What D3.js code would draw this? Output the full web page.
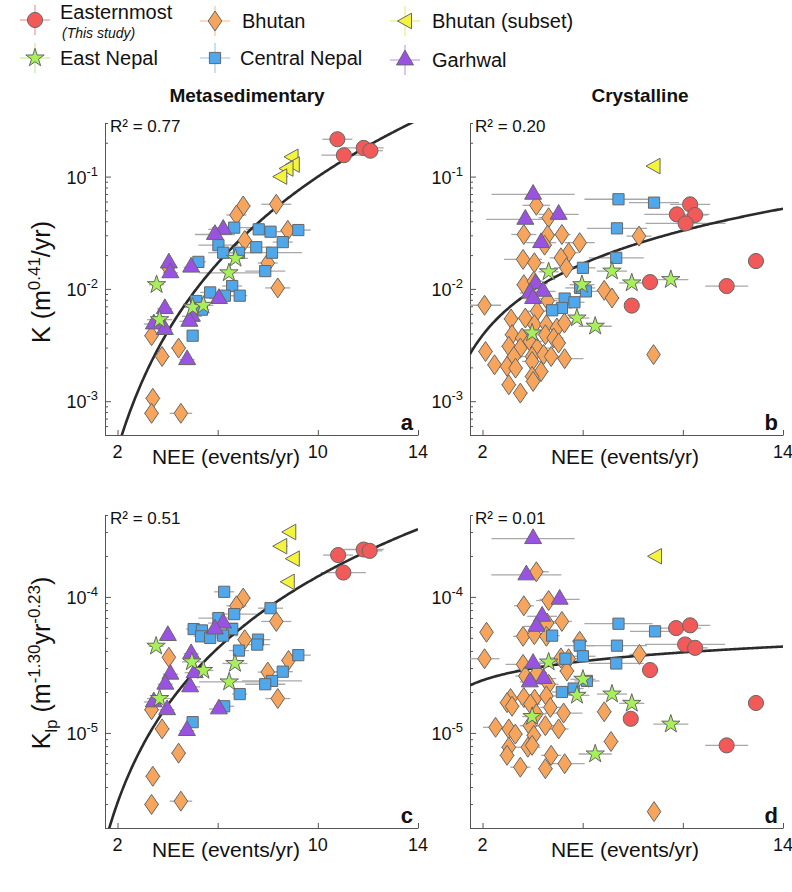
<!DOCTYPE html>
<html><head><meta charset="utf-8">
<script src="https://cdn.jsdelivr.net/npm/d3@7"></script>
<style>
body{margin:0;background:#fff}
svg{display:block}
text{font-family:"Liberation Sans",Arial,Helvetica,sans-serif;fill:#111}
</style>
</head><body>
<svg id="chart" width="792" height="892"></svg>
<script>
// ---------- labels / ticks ----------
const seriesNames = ["Easternmost","Bhutan","Bhutan (subset)","East Nepal","Central Nepal","Garhwal"];
const seriesKeys  = ["east","bhutan","subset","eastNepal","central","garhwal"];
const columnTitles = ["Metasedimentary","Crystalline"];
const panelLetters = ["a","b","c","d"];
const rSquared = ["0.77","0.20","0.51","0.01"];
const xTickValues = [2,6,10,14];
const xDomain = [1.5,14];
const kDomain = [5e-4,0.3];
const klpDomain = [2e-6,4e-4];
// power-law fit K = 10^logA * NEE^slope
const fitLogA  = [-4.471,-2.815,-6.230,-4.702];
const fitSlope = [3.47,1.334,2.38,0.294];

// ---------- data: [NEE, value, NEE error] ----------
// panel a: Metasedimentary K
const metaK_east = [[10.78,0.215,0.6],[11.04,0.155,0.9],[11.83,0.18,0.8],[12.10,0.17,0.5]];
const metaK_subset = [[8.95,0.15,0.2],[9.0,0.128,0.2],[8.75,0.118,0.2],[8.5,0.10,0.3]];
const metaK_bhutan = [[7.02,0.0547,0.3],[6.75,0.0455,0.4],[8.34,0.0567,0.6],[8.80,0.0332,0.3],[7.08,0.027,0.3],[8.0,0.017,0.4],[8.4,0.0102,0.5],[4.02,0.0156,0.2],[3.36,0.00383,0.3],[3.78,0.0025,0.3],[4.44,0.00297,0.3],[3.41,0.00106,0.3],[3.36,0.00078,0.3],[4.53,0.00078,0.45]];
const metaK_central = [[6.66,0.0351,0.9],[7.64,0.0339,0.5],[8.11,0.0323,0.5],[9.22,0.0334,0.5],[6.03,0.0245,0.8],[6.22,0.021,0.6],[6.85,0.021,0.5],[7.54,0.0235,0.6],[8.17,0.021,1.2],[8.6,0.0261,0.4],[5.23,0.0174,0.3],[7.9,0.0144,0.8],[6.58,0.0106,0.4],[5.70,0.0093,0.4],[6.29,0.0087,0.4],[6.88,0.0087,0.3],[5.14,0.0078,0.4],[5.37,0.00653,0.3],[5.0,0.00383,0.2]];
const metaK_garhwal = [[6.22,0.0339,0.6],[5.89,0.0305,0.8],[4.05,0.017,0.2],[4.11,0.0139,0.3],[4.94,0.0156,0.3],[6.05,0.0082,0.4],[3.89,0.00667,0.3],[4.97,0.0057,0.4],[4.87,0.00514,0.4],[3.45,0.00487,0.4],[3.89,0.00434,0.3],[4.78,0.00234,0.3]];
const metaK_eastNepal = [[6.71,0.0187,0.5],[6.45,0.0139,1.2],[3.56,0.0109,0.3],[5.0,0.00686,0.4],[5.43,0.00714,0.4],[3.68,0.00532,0.5]];

// panel b: Crystalline K
const crystK_east = [[10.29,0.0566,0.8],[9.76,0.0461,1.3],[10.49,0.0455,0.5],[10.11,0.0383,1.6],[12.92,0.0177,0],[8.69,0.0115,0.3],[11.75,0.0106,0.86],[7.96,0.0071,0.2]];
const crystK_subset = [[8.83,0.124,0]];
const crystK_bhutan = [[4.15,0.0555,0.55],[4.64,0.043,0.4],[3.65,0.0305,0.5],[4.60,0.0301,0.3],[5.17,0.0305,0.35],[5.88,0.0258,0.6],[8.25,0.0295,0.5],[4.48,0.0245,0.3],[5.44,0.021,0.4],[5.13,0.0189,0.45],[3.62,0.0183,0.76],[4.07,0.0171,0.4],[5.35,0.0154,0.5],[3.65,0.0109,0.3],[4.05,0.0117,0.35],[6.86,0.0097,0.3],[7.17,0.0083,0.3],[2.08,0.00715,0.66],[4.60,0.00787,0.4],[4.18,0.00632,0.4],[3.14,0.0054,0.3],[3.71,0.0055,0.4],[4.07,0.0048,0.4],[4.55,0.0048,0.4],[4.97,0.00449,0.4],[5.27,0.00497,0.3],[3.18,0.00391,0.3],[3.58,0.00365,0.4],[3.89,0.00341,0.5],[4.51,0.00391,0.4],[4.84,0.00365,0.4],[5.04,0.0033,0.3],[3.05,0.00308,0.3],[3.51,0.00297,0.4],[4.18,0.00297,0.5],[2.12,0.00277,0.3],[3.25,0.0025,0.3],[3.98,0.0025,0.4],[4.44,0.0026,0.4],[4.74,0.0025,0.4],[5.28,0.00239,0.75],[8.83,0.0026,0],[2.48,0.00211,0.3],[2.98,0.00204,0.3],[3.32,0.00197,0.3],[3.98,0.00226,0.4],[4.34,0.00184,0.3],[3.98,0.00166,0.3],[4.02,0.0015,0.3],[3.05,0.0014,0.3],[3.51,0.00118,0.3]];
const crystK_central = [[7.43,0.0628,1.36],[8.85,0.0586,1.0],[7.37,0.0346,1.2],[7.34,0.0189,1.1],[6.01,0.0154,0.5],[5.90,0.0102,0.6],[6.13,0.0095,0.5],[5.28,0.0082,0.4],[5.67,0.0076,0.4],[5.17,0.00676,0.4],[4.78,0.00645,0.3]];
const crystK_garhwal = [[4.02,0.0695,1.66],[3.71,0.0416,1.56],[5.04,0.0461,0.8],[4.34,0.0258,0.6],[4.11,0.0111,0.5],[4.42,0.0095,0.5],[3.89,0.0092,0.4],[4.02,0.0082,0.4]];
const crystK_eastNepal = [[4.64,0.0142,0.4],[7.17,0.0144,0.6],[5.97,0.0109,0.5],[7.96,0.0113,0.5],[9.52,0.0121,0.7],[5.77,0.0055,0.5],[6.50,0.00465,0.66],[3.98,0.00405,0.4]];

// panel c: Metasedimentary Klp
const metaKlp_east = [[10.81,2.03e-4,0.6],[11.02,1.51e-4,0.9],[11.83,2.23e-4,0.8],[12.07,2.18e-4,0.5]];
const metaKlp_subset = [[8.86,3.0e-4,0.2],[8.5,2.36e-4,0.3],[9.0,1.91e-4,0.2],[8.8,1.29e-4,0.2]];
const metaKlp_bhutan = [[7.02,9.8e-5,0.3],[6.75,8.6e-5,0.4],[8.34,6.6e-5,0.6],[7.08,4.85e-5,0.3],[8.83,3.41e-5,0.3],[8.0,2.8e-5,0.4],[8.4,1.79e-5,0.5],[4.05,3.6e-5,0.2],[3.36,1.48e-5,0.3],[3.78,1.07e-5,0.3],[4.44,7.1e-6,0.3],[3.41,4.8e-6,0.3],[3.36,2.98e-6,0.3],[4.53,3.15e-6,0.45]];
const metaKlp_central = [[6.26,1.09e-4,0.4],[6.66,7.47e-5,0.9],[8.11,8.26e-5,0.5],[6.03,6.99e-5,0.8],[5.04,5.8e-5,0.3],[5.37,5.67e-5,0.3],[5.34,5.13e-5,0.3],[5.70,4.99e-5,0.4],[6.58,5.8e-5,0.4],[6.22,5.19e-5,0.6],[7.61,4.85e-5,0.5],[7.58,4.46e-5,0.5],[6.85,4.03e-5,0.4],[9.22,3.73e-5,0.5],[8.6,2.82e-5,0.4],[8.17,2.41e-5,1.2],[7.9,2.28e-5,0.8],[6.88,1.93e-5,0.3],[6.26,1.57e-5,0.4],[5.0,1.2e-5,0.2]];
const metaKlp_garhwal = [[4.01,5.19e-5,0.2],[6.22,6.42e-5,0.6],[5.89,5.8e-5,0.8],[4.94,3.82e-5,0.3],[5.08,2.77e-5,0.4],[4.11,2.7e-5,0.3],[3.91,2.28e-5,0.3],[4.9,2.18e-5,0.4],[3.45,1.69e-5,0.4],[3.98,1.48e-5,0.3],[6.05,1.5e-5,0.4],[4.77,1.04e-5,0.3]];
const metaKlp_eastNepal = [[3.54,4.34e-5,0.3],[4.97,3.33e-5,0.4],[5.43,2.88e-5,0.4],[6.69,3.24e-5,0.5],[6.46,2.37e-5,1.2],[3.68,1.79e-5,0.5]];

// panel d: Crystalline Klp
const crystKlp_east = [[9.73,5.9e-5,1.0],[10.29,6.18e-5,0.8],[10.09,4.47e-5,1.6],[10.49,4.22e-5,0.5],[8.69,2.9e-5,0.3],[12.92,1.66e-5,0],[7.92,1.27e-5,0.2],[11.75,8.1e-6,0.86]];
const crystKlp_subset = [[8.89,1.99e-4,0]];
const crystKlp_bhutan = [[4.15,1.53e-4,0.5],[4.64,9.4e-5,0.5],[3.65,8.6e-5,0.4],[5.17,6.6e-5,0.4],[4.58,6.42e-5,0.5],[2.16,5.5e-5,0],[3.62,5.13e-5,0.4],[4.07,5.28e-5,0.4],[4.55,5.13e-5,0.3],[5.88,4.72e-5,0.3],[2.08,3.51e-5,0.6],[8.27,3.78e-5,0.4],[5.13,3.56e-5,0.4],[5.44,3.51e-5,0.4],[3.62,3.19e-5,0.7],[5.37,2.85e-5,0.3],[4.18,2.77e-5,0.4],[3.71,2.62e-5,0.4],[4.64,2.28e-5,0.4],[3.12,1.79e-5,0.3],[3.65,1.82e-5,0.4],[4.08,1.77e-5,0.4],[4.55,1.87e-5,0.4],[2.98,1.67e-5,0.3],[3.18,1.57e-5,0.3],[3.91,1.63e-5,0.4],[4.71,1.54e-5,0.4],[5.24,1.4e-5,0.75],[6.86,1.43e-5,0.3],[4.15,1.38e-5,0.4],[2.52,1.1e-5,0.5],[3.05,1.07e-5,0.3],[3.31,9.8e-6,0.3],[3.89,1.13e-5,0.4],[4.51,1.13e-5,0.5],[5.04,1.07e-5,0.4],[4.05,9.6e-6,0.3],[7.13,8.65e-6,0.3],[3.05,7.85e-6,0.3],[3.81,7.85e-6,0.5],[2.98,6.84e-6,0.3],[3.98,8.1e-6,0.3],[4.74,6.84e-6,0.4],[3.51,5.6e-6,0.4],[4.51,5.46e-6,0.3],[5.28,5.94e-6,0.8],[8.85,2.64e-6,0]];
const crystKlp_central = [[7.43,6.35e-5,1.36],[8.89,5.58e-5,1.0],[4.78,5.19e-5,0.3],[5.88,4.38e-5,0.6],[7.37,4.38e-5,1.2],[6.01,3.66e-5,0.5],[5.31,3.51e-5,0.4],[7.34,3.24e-5,1.1],[6.17,2.41e-5,0.5],[5.64,2.12e-5,0.4],[5.17,2.0e-5,0.4]];
const crystKlp_garhwal = [[4.02,2.68e-4,1.66],[3.75,1.45e-4,1.4],[5.08,9.6e-5,0.8],[4.38,7.2e-5,0.6],[4.15,6.07e-5,0.5],[4.02,3.24e-5,0.5],[4.44,2.51e-5,0.5],[3.89,2.37e-5,0.4]];
const crystKlp_eastNepal = [[4.64,3.32e-5,0.4],[6.01,2.48e-5,0.5],[5.77,1.89e-5,0.5],[7.17,1.93e-5,0.6],[7.96,1.65e-5,0.5],[9.52,1.16e-5,0.7],[3.98,1.32e-5,0.4],[6.50,7.0e-6,0.66]];

// ---------- styling ----------
const fillColor = {east:"#f25a5a",bhutan:"#f7a55c",subset:"#f4f43c",eastNepal:"#a8f05a",central:"#50a8ec",garhwal:"#9a52e2"};
const lightColor = {east:"#f4a0a0",bhutan:"#f8c898",subset:"#eeee80",eastNepal:"#c8efa0",central:"#a8d0f2",garhwal:"#c9a8f0"};

function markerPath(key){
  switch(key){
    case "east": return d3.symbol(d3.symbolCircle,180)();
    case "bhutan": return "M0,-10L6.8,0L0,10L-6.8,0Z";
    case "subset": return "M-7.5,0L6.5,-7.8L6.5,7.8Z";
    case "eastNepal": return d3.symbol(d3.symbolStar,105)();
    case "central": return "M-5.6,-5.6h11.2v11.2h-11.2z";
    case "garhwal": return d3.symbol(d3.symbolTriangle,125)();
  }
}

const panelData = [
  {east:metaK_east,bhutan:metaK_bhutan,subset:metaK_subset,eastNepal:metaK_eastNepal,central:metaK_central,garhwal:metaK_garhwal},
  {east:crystK_east,bhutan:crystK_bhutan,subset:crystK_subset,eastNepal:crystK_eastNepal,central:crystK_central,garhwal:crystK_garhwal},
  {east:metaKlp_east,bhutan:metaKlp_bhutan,subset:metaKlp_subset,eastNepal:metaKlp_eastNepal,central:metaKlp_central,garhwal:metaKlp_garhwal},
  {east:crystKlp_east,bhutan:crystKlp_bhutan,subset:crystKlp_subset,eastNepal:crystKlp_eastNepal,central:crystKlp_central,garhwal:crystKlp_garhwal}
];

const layout = [
  {x0:105,x1:418,y0:123,y1:435,yd:kDomain,titleX:226},
  {x0:470,x1:783,y0:123,y1:435,yd:kDomain,titleX:625},
  {x0:105,x1:418,y0:515,y1:828,yd:klpDomain,titleX:226},
  {x0:470,x1:783,y0:515,y1:828,yd:klpDomain,titleX:625}
];

const svg = d3.select("#chart");
const drawOrder = ["bhutan","central","garhwal","eastNepal","east","subset"];

layout.forEach((L,i)=>{
  const g = svg.append("g");
  const x = d3.scaleLinear().domain(xDomain).range([L.x0,L.x1]);
  const y = d3.scaleLog().domain(L.yd).range([L.y1,L.y0]);

  const cid = "clip"+i;
  svg.append("clipPath").attr("id",cid).append("rect")
    .attr("x",L.x0).attr("y",L.y0).attr("width",L.x1-L.x0).attr("height",L.y1-L.y0);

  // y ticks (log majors + minors)
  const lo = Math.floor(Math.log10(L.yd[0])), hi = Math.ceil(Math.log10(L.yd[1]));
  const majors=[], minors=[];
  for(let e=lo;e<=hi;e++){
    for(let m=1;m<10;m++){
      const v = m*Math.pow(10,e);
      if(v<L.yd[0]*0.999||v>L.yd[1]*1.001) continue;
      (m===1?majors:minors).push(v);
    }
  }
  const axStyle = s=>{ s.selectAll("path,line").attr("stroke","#555").attr("stroke-width",1); s.selectAll("text").remove(); };
  g.append("g").attr("transform",`translate(${L.x0},0)`)
    .call(d3.axisLeft(y).tickValues(minors).tickSize(-3).tickSizeOuter(0).tickFormat(""))
    .call(axStyle);
  g.append("g").attr("transform",`translate(${L.x0},0)`)
    .call(d3.axisLeft(y).tickValues(majors).tickSize(-6).tickSizeOuter(0).tickFormat(""))
    .call(axStyle);
  g.append("g").attr("transform",`translate(0,${L.y1})`)
    .call(d3.axisBottom(x).tickValues(xTickValues).tickSize(-5).tickSizeOuter(0).tickFormat(""))
    .call(axStyle);

  // y tick labels 10^n, right aligned
  majors.forEach(v=>{
    const t = g.append("text").attr("x",L.x0-7).attr("y",y(v)+7).attr("text-anchor","end")
      .attr("font-size",18).attr("fill","#222");
    t.append("tspan").text("10");
    t.append("tspan").attr("dy",-8).attr("font-size",13).text(String(Math.round(Math.log10(v))));
  });

  // x axis title
  const tt = g.append("text").attr("x",L.titleX).attr("y",L.y1+29).attr("text-anchor","middle")
    .attr("font-size",21).attr("fill","#222").text("NEE (events/yr)");
  const bb = tt.node().getBBox();
  // x tick labels (those not covered by the title)
  xTickValues.forEach(v=>{
    const lab = g.append("text").attr("x",x(v)).attr("y",L.y1+23).attr("text-anchor","middle")
      .attr("font-size",18).attr("fill","#222").text(v);
    const lb = lab.node().getBBox();
    if(lb.x+lb.width > bb.x-2 && lb.x < bb.x+bb.width+2) lab.remove();
  });

  // error bars, fit curve, markers
  const nee = d3.range(xDomain[0],xDomain[1]+0.001,0.05);
  const line = d3.line().x(d=>x(d)).y(d=>y(Math.pow(10,fitLogA[i])*Math.pow(d,fitSlope[i])));
  const plot = g.append("g").attr("clip-path",`url(#${cid})`);
  const data = panelData[i];
  drawOrder.forEach(k=>{
    plot.selectAll(null).data(data[k].filter(d=>d[2]>0)).join("line")
      .attr("x1",d=>x(d[0]-d[2])).attr("x2",d=>x(d[0]+d[2]))
      .attr("y1",d=>y(d[1])).attr("y2",d=>y(d[1]))
      .attr("stroke","#a8a8a8").attr("stroke-width",1.3);
  });
  plot.append("path").datum(nee).attr("d",line).attr("fill","none")
    .attr("stroke","#2b2b2b").attr("stroke-width",2.6);
  drawOrder.forEach(k=>{
    g.selectAll(null).data(data[k]).join("path")
      .attr("d",markerPath(k))
      .attr("transform",d=>`translate(${x(d[0])},${y(d[1])})`)
      .attr("fill",fillColor[k]).attr("stroke","#666").attr("stroke-width",1);
  });

  // R² and panel letter
  g.append("text").attr("x",L.x0+5).attr("y",L.y0+9).attr("font-size",17)
    .attr("fill", i===3?"#777":"#111").text("R² = "+rSquared[i]);
  g.append("text").attr("x",L.x1-5).attr("y",L.y1-5).attr("text-anchor","end")
    .attr("font-size",22).attr("font-weight","bold").text(panelLetters[i]);
});

// column titles
svg.append("text").attr("x",247).attr("y",102).attr("text-anchor","middle")
  .attr("font-size",19).attr("font-weight","bold").text(columnTitles[0]);
svg.append("text").attr("x",640).attr("y",102).attr("text-anchor","middle")
  .attr("font-size",19).attr("font-weight","bold").text(columnTitles[1]);

// y axis titles
const yt1 = svg.append("text").attr("transform","translate(50,282) rotate(-90)")
  .attr("text-anchor","middle").attr("font-size",25).attr("fill","#222");
yt1.append("tspan").text("K (m");
yt1.append("tspan").attr("dy",-10).attr("font-size",17).text("0.41");
yt1.append("tspan").attr("dy",10).text("/yr)");

const yt2 = svg.append("text").attr("transform","translate(50,663) rotate(-90)")
  .attr("text-anchor","middle").attr("font-size",25).attr("fill","#222");
yt2.append("tspan").text("K");
yt2.append("tspan").attr("dy",7).attr("font-size",17).text("lp");
yt2.append("tspan").attr("dy",-7).text(" (m");
yt2.append("tspan").attr("dy",-10).attr("font-size",17).text("-1.30");
yt2.append("tspan").attr("dy",10).text("yr");
yt2.append("tspan").attr("dy",-10).attr("font-size",17).text("-0.23");
yt2.append("tspan").attr("dy",10).text(")");

// legend
const legendPos = [
  {k:"east",mx:35,my:20,tx:60},
  {k:"bhutan",mx:215,my:21,tx:242},
  {k:"subset",mx:405,my:21,tx:432},
  {k:"eastNepal",mx:35,my:58,tx:60},
  {k:"central",mx:215,my:58,tx:240},
  {k:"garhwal",mx:405,my:60,tx:432}
];
const lg = svg.append("g");
legendPos.forEach(p=>{
  lg.append("line").attr("x1",p.mx-15).attr("x2",p.mx+15).attr("y1",p.my).attr("y2",p.my)
    .attr("stroke",lightColor[p.k]).attr("stroke-width",1.3);
  lg.append("line").attr("x1",p.mx).attr("x2",p.mx).attr("y1",p.my-15).attr("y2",p.my+15)
    .attr("stroke",lightColor[p.k]).attr("stroke-width",1.3);
  lg.append("path").attr("d",markerPath(p.k)).attr("transform",`translate(${p.mx},${p.my})`)
    .attr("fill",fillColor[p.k]).attr("stroke","#666").attr("stroke-width",1);
  const name = seriesNames[seriesKeys.indexOf(p.k)];
  if(p.k==="east"){
    lg.append("text").attr("x",p.tx).attr("y",19).attr("font-size",20).text(name);
    lg.append("text").attr("x",p.tx+2).attr("y",37.5).attr("font-size",14).attr("font-style","italic").text("(This study)");
  } else {
    lg.append("text").attr("x",p.tx).attr("y",p.my+7).attr("font-size",20).text(name);
  }
});
</script>
</body></html>
